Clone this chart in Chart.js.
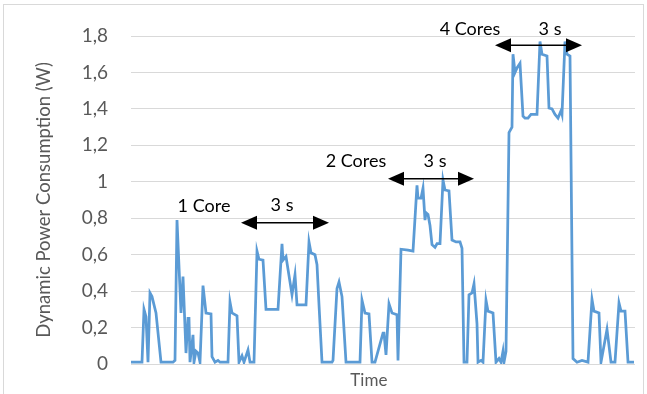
<!DOCTYPE html>
<html>
<head>
<meta charset="utf-8">
<script src="https://cdn.jsdelivr.net/npm/chart.js@4/dist/chart.umd.min.js"></script>
<style>
  html, body { margin: 0; padding: 0; background: #ffffff; }
  #wrap { position: relative; width: 647px; height: 394px; }
  canvas { display: block; }
</style>
</head>
<body>
<div id="wrap"><canvas id="c" width="647" height="394"></canvas></div>
<script>
// ---- data ----
const timeSteps = [0, 11, 13, 15, 17, 19, 21, 25, 30, 42, 44, 46, 50, 52, 55, 57, 58, 59, 62, 63, 65, 67, 69, 72, 75, 80, 81, 84, 87, 89,
  97, 99, 101, 106, 108, 111, 113, 117, 119, 123, 126, 128, 132, 135, 147, 151, 152, 155, 161, 164, 166, 175, 178, 180, 184, 186, 188, 191,
  201, 202, 206, 208, 211, 215, 229, 231, 234, 238, 241, 244, 252, 253, 255, 258, 261, 266, 267, 270, 277, 282, 286, 287, 290, 292, 294,
  295, 297, 299, 301, 304, 306, 309, 312, 314, 318, 321, 325, 329, 331, 333, 336, 338, 341, 343, 346, 347, 350, 352, 355, 357, 362, 365,
  368, 370, 372, 373, 375, 378, 381, 382, 384, 386, 389, 392, 394, 397, 400, 406, 409, 411, 416, 418, 421, 424, 427, 430, 431, 434, 436,
  439, 442, 446, 451, 457, 461, 463, 468, 470, 476, 480, 484, 488, 490, 494, 497, 503];
const powerW = [0.01, 0.01, 0.30, 0.26, 0.01, 0.39, 0.37, 0.28, 0.01, 0.01, 0.02, 0.79, 0.28, 0.48, 0.06, 0.25, 0.25, 0.01, 0.16, 0.01, 0.07, 0.06, 0.01, 0.43, 0.28, 0.275, 0.04, 0.01, 0.02, 0.01,
  0.01, 0.34, 0.28, 0.265, 0.01, 0.045, 0.01, 0.077, 0.01, 0.01, 0.62, 0.575, 0.57, 0.30, 0.30, 0.66, 0.57, 0.59, 0.38, 0.49, 0.325, 0.325, 0.67, 0.61, 0.60, 0.545, 0.325, 0.01,
  0.01, 0.02, 0.415, 0.45, 0.37, 0.01, 0.01, 0.35, 0.28, 0.275, 0.01, 0.01, 0.17, 0.17, 0.05, 0.33, 0.28, 0.27, 0.02, 0.63, 0.625, 0.62, 0.98, 0.91, 0.91, 0.965, 0.79,
  0.83, 0.82, 0.76, 0.655, 0.64, 0.66, 0.66, 1.01, 0.955, 0.95, 0.68, 0.67, 0.67, 0.635, 0.01, 0.01, 0.38, 0.39, 0.44, 0.22, 0.01, 0.02, 0.01, 0.35, 0.29, 0.28, 0.01,
  0.03, 0.01, 0.07, 0.01, 0.07, 1.27, 1.30, 1.70, 1.60, 1.625, 1.65, 1.36, 1.35, 1.35, 1.37, 1.37, 1.77, 1.70, 1.69, 1.405, 1.40, 1.37, 1.35, 1.39, 1.37, 1.77, 1.70,
  1.69, 0.03, 0.01, 0.02, 0.01, 0.355, 0.29, 0.28, 0.01, 0.19, 0.01, 0.01, 0.335, 0.29, 0.29, 0.01, 0.01];

const yTicks = [0, 0.2, 0.4, 0.6, 0.8, 1, 1.2, 1.4, 1.6, 1.8];

// annotations (in data units: time, watts)
const labelTexts = ['1 Core', '3 s', '2 Cores', '3 s', '4 Cores', '3 s'];
const labelTime  = [73, 151, 225, 304, 339, 419];
const labelPower = [0.868, 0.874, 1.115, 1.115, 1.835, 1.835];
const arrowStart = [110, 257, 364];
const arrowEnd   = [198, 343, 451];
const arrowPower = [0.775, 1.016, 1.749];

const FONT = 'Lato, "Liberation Sans", sans-serif';
const GREY = '#595959';

const points = timeSteps.map((t, i) => ({ x: t, y: powerW[i] }));

const annoPlugin = {
  id: 'anno',
  afterDraw(chart) {
    const ctx = chart.ctx;
    const xs = chart.scales.x, ys = chart.scales.y;
    const area = chart.chartArea;
    ctx.save();
    // chart border
    ctx.strokeStyle = '#D9D9D9';
    ctx.lineWidth = 1;
    ctx.strokeRect(3.5, 4.5, 640, 400);
    // x axis title
    ctx.fillStyle = GREY;
    ctx.font = '17px ' + FONT;
    ctx.textAlign = 'center';
    ctx.textBaseline = 'middle';
    ctx.fillText('Time', area.left + (area.right - area.left) * 0.472, area.bottom + 17);
    // labels
    ctx.fillStyle = '#000000';
    ctx.font = '18px ' + FONT;
    for (let i = 0; i < labelTexts.length; i++) {
      ctx.fillText(labelTexts[i], xs.getPixelForValue(labelTime[i]), ys.getPixelForValue(labelPower[i]));
    }
    // arrows
    ctx.strokeStyle = '#000000';
    ctx.lineWidth = 1.5;
    for (let i = 0; i < arrowStart.length; i++) {
      const x1 = xs.getPixelForValue(arrowStart[i]);
      const x2 = xs.getPixelForValue(arrowEnd[i]);
      const y = ys.getPixelForValue(arrowPower[i]);
      const L = 16, H = 7;
      ctx.beginPath();
      ctx.moveTo(x1 + L, y); ctx.lineTo(x2 - L, y); ctx.stroke();
      ctx.beginPath();
      ctx.moveTo(x1, y); ctx.lineTo(x1 + L, y - H); ctx.lineTo(x1 + L, y + H); ctx.closePath(); ctx.fill();
      ctx.beginPath();
      ctx.moveTo(x2, y); ctx.lineTo(x2 - L, y - H); ctx.lineTo(x2 - L, y + H); ctx.closePath(); ctx.fill();
    }
    ctx.restore();
  }
};

new Chart(document.getElementById('c'), {
  type: 'line',
  data: {
    datasets: [{
      data: points,
      borderColor: '#5B9BD5',
      borderWidth: 2.75,
      pointRadius: 0,
      tension: 0,
      fill: false
    }]
  },
  options: {
    responsive: false,
    animation: false,
    events: [],
    layout: { padding: { left: 0, right: 12, top: 36, bottom: 30 } },
    plugins: { legend: { display: false }, tooltip: { enabled: false } },
    scales: {
      x: {
        type: 'linear',
        display: false,
        min: 0,
        max: 504
      },
      y: {
        min: 0,
        max: 1.8,
        afterBuildTicks(s) { s.ticks = yTicks.map(v => ({ value: v })); },
        ticks: {
          color: GREY,
          font: { family: FONT, size: 19 },
          padding: 23,
          callback: (v) => String(Math.round(v * 10) / 10).replace('.', ',')
        },
        grid: { color: '#D9D9D9', lineWidth: 1, drawTicks: false },
        border: { display: false },
        title: {
          display: true,
          text: 'Dynamic Power Consumption (W)',
          color: GREY,
          font: { family: FONT, size: 18.5 },
          padding: { top: 33, bottom: 0 }
        },
        afterFit(s) { s.width = 131; s.paddingTop = 0; s.paddingBottom = 0; }
      }
    }
  },
  plugins: [annoPlugin]
});
</script>
</body>
</html>
